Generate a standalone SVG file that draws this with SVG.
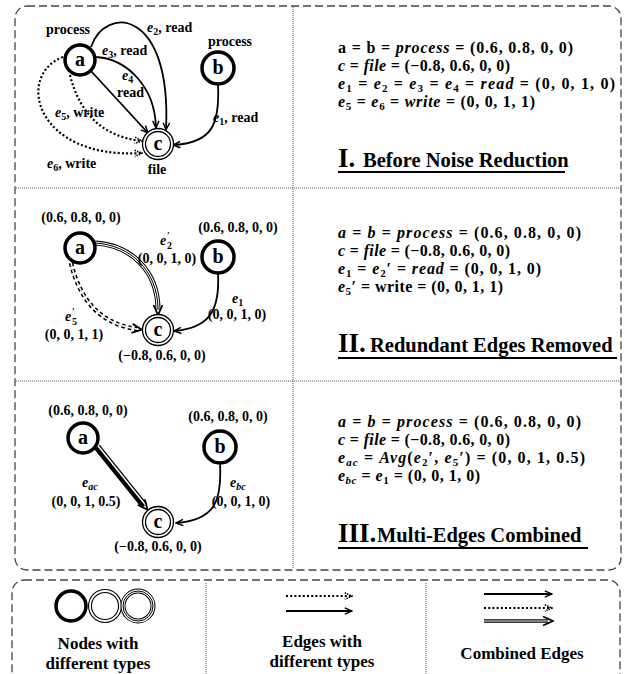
<svg xmlns="http://www.w3.org/2000/svg" width="624" height="674" viewBox="0 0 624 674">
<defs>
<style>
text{font-family:"Liberation Serif","Times New Roman",serif;font-weight:bold;fill:#000}
.it{font-style:italic}
.m{font-size:16px}
.sb{font-size:11px}
.s{font-size:10px}
.lab{font-size:14px}
.tup{font-size:14px;text-anchor:middle}
.nl{font-size:20px;text-anchor:middle}
.ttl{font-size:20.5px}
.big{font-size:27px}
.lg{font-size:17px;text-anchor:middle}
.box{fill:none;stroke:#444;stroke-width:1.3;stroke-dasharray:8 4}
.div{fill:none;stroke:#555;stroke-width:1;stroke-dasharray:1 1}
.proc{fill:#fff;stroke:#000;stroke-width:3.5}
.fo{fill:#fff;stroke:#000;stroke-width:1.3}
.fi{fill:none;stroke:#000;stroke-width:1.3}
.e{fill:none;stroke:#000;stroke-width:1.8}
.d{fill:none;stroke:#000;stroke-width:2.2;stroke-dasharray:2 2.2}
.ul{stroke:#000;stroke-width:1.8}
</style>
<marker id="ah" viewBox="0 0 10 10" refX="9" refY="5" markerWidth="9" markerHeight="9" markerUnits="userSpaceOnUse" orient="auto"><path d="M1,1.5 L9,5 L1,8.5" fill="none" stroke="#000" stroke-width="1.6"/></marker>
<marker id="ahd" viewBox="0 0 10 10" refX="9" refY="5" markerWidth="9" markerHeight="9" markerUnits="userSpaceOnUse" orient="auto"><path d="M1,1.5 L9,5 L1,8.5" fill="none" stroke="#000" stroke-width="1.8" stroke-dasharray="1.6 1.2"/></marker>
<marker id="ahT" viewBox="0 0 12 12" refX="6" refY="6" markerWidth="12" markerHeight="12" markerUnits="userSpaceOnUse" orient="auto"><path d="M1,1.5 L11,6 L1,10.5" fill="none" stroke="#000" stroke-width="1.8"/></marker>
</defs>

<g id="frames">
<rect class="box" x="15" y="6" width="606" height="564" rx="12"/>
<line class="div" x1="293" y1="7" x2="293" y2="569"/>
<line class="div" x1="16" y1="188" x2="620" y2="188"/>
<line class="div" x1="16" y1="381" x2="620" y2="381"/>
<rect class="box" x="12" y="580" width="608" height="130" rx="12"/>
<line class="div" x1="206" y1="583" x2="206" y2="674"/>
<line class="div" x1="426" y1="583" x2="426" y2="674"/>
</g>

<g id="connectors">
<!-- Panel I -->
<path class="e" d="M91,47 C105,5 172,8 166,130" marker-end="url(#ah)"/>
<path class="e" d="M95,57 C125,58 155,85 156,128" marker-end="url(#ah)"/>
<path class="e" d="M91,71 L148,133" marker-end="url(#ah)"/>
<path class="d" d="M70,75 Q85,135 142,141" marker-end="url(#ahd)"/>
<path class="d" d="M63,57 C15,75 35,160 142,153" marker-end="url(#ahd)"/>
<path class="e" d="M218,84 C220,125 212,143 173,145" marker-end="url(#ah)"/>
<text class="lab" x="147" y="32"><tspan class="it">e</tspan><tspan class="s" dy="3">2</tspan><tspan dy="-3">, read</tspan></text>
<text class="lab" x="102" y="55"><tspan class="it">e</tspan><tspan class="s" dy="3">3</tspan><tspan dy="-3">, read</tspan></text>
<text class="lab" x="122" y="80"><tspan class="it">e</tspan><tspan class="s" dy="3">4</tspan></text>
<text class="lab" x="117" y="97">read</text>
<text class="lab" x="55" y="117"><tspan class="it">e</tspan><tspan class="s" dy="3">5</tspan><tspan dy="-3">, write</tspan></text>
<text class="lab" x="47" y="168"><tspan class="it">e</tspan><tspan class="s" dy="3">6</tspan><tspan dy="-3">, write</tspan></text>
<text class="lab" x="213" y="122"><tspan class="it">e</tspan><tspan class="s" dy="3">1</tspan><tspan dy="-3">, read</tspan></text>

<!-- Panel II -->
<path d="M95,243 C130,245 158,270 158,310" fill="none" stroke="#000" stroke-width="5"/>
<path d="M95,243 C130,245 158,270 158,310" fill="none" stroke="#fff" stroke-width="3"/>
<path d="M95,243 C130,245 158,270 158,310" fill="none" stroke="#000" stroke-width="1" marker-end="url(#ahT)"/>
<path d="M71,263 Q85,322 137,329" fill="none" stroke="#000" stroke-width="4.5" stroke-dasharray="3.5 3"/>
<path d="M71,263 Q85,322 137,329" fill="none" stroke="#fff" stroke-width="1.5" stroke-dasharray="3.5 3" marker-end="url(#ahT)"/>
<path class="e" d="M218,273 C220,310 210,328 174,331" marker-end="url(#ah)"/>
<text class="lab" x="160" y="245"><tspan class="it">e</tspan></text>
<text class="s" x="167" y="239">′</text>
<text class="s" x="167" y="249">2</text>
<text class="tup" x="167" y="263">(0, 0, 1, 0)</text>
<text class="lab" x="232" y="303"><tspan class="it">e</tspan><tspan class="s" dy="3">1</tspan></text>
<text class="tup" x="237" y="319">(0, 0, 1, 0)</text>
<text class="lab" x="65" y="321"><tspan class="it">e</tspan></text>
<text class="s" x="72" y="315">′</text>
<text class="s" x="72" y="325">5</text>
<text class="tup" x="74" y="339">(0, 0, 1, 1)</text>

<!-- Panel III -->
<line x1="97" y1="447" x2="144.4" y2="505.9" stroke="#000" stroke-width="7"/>
<line x1="98.15" y1="446.03" x2="145.55" y2="504.93" stroke="#fff" stroke-width="1.5"/>
<line x1="97" y1="447" x2="144.4" y2="505.9" stroke="none" stroke-width="1" marker-end="url(#ahT)"/>
<path class="e" d="M220,463 C222,500 216,520 176,523" marker-end="url(#ah)"/>
<text class="lab" x="82" y="487"><tspan class="it">e</tspan><tspan class="s it" dy="3">ac</tspan></text>
<text class="tup" x="86" y="506">(0, 0, 1, 0.5)</text>
<text class="lab" x="230" y="487"><tspan class="it">e</tspan><tspan class="s it" dy="3">bc</tspan></text>
<text class="tup" x="241" y="506">(0, 0, 1, 0)</text>

<!-- Legend edges -->
<path class="d" d="M286,596 H352" marker-end="url(#ahd)"/>
<path class="e" d="M286,611 H352" marker-end="url(#ah)"/>
<path class="e" d="M484,594 H552" marker-end="url(#ah)"/>
<path class="d" d="M484,608 H552" marker-end="url(#ahd)"/>
<path d="M484,621 H548" stroke="#000" stroke-width="3.5"/>
<path d="M484,621 H548" stroke="#fff" stroke-width="1.2" marker-end="url(#ahT)"/>
</g>

<g id="node-I-a">
<circle class="proc" cx="80" cy="60" r="15"/>
<text class="nl" x="80" y="66">a</text>
<text class="lab" x="68" y="34" text-anchor="middle">process</text>
</g>
<g id="node-I-b">
<circle class="proc" cx="218" cy="68" r="16"/>
<text class="nl" x="218" y="74">b</text>
<text class="lab" x="230" y="46" text-anchor="middle">process</text>
</g>
<g id="node-I-c">
<circle class="fo" cx="158" cy="144" r="15.5"/>
<circle class="fi" cx="158" cy="144" r="12.5"/>
<text class="nl" x="158" y="150">c</text>
<text class="lab" x="157" y="174" text-anchor="middle">file</text>
</g>

<g id="node-II-a">
<circle class="proc" cx="80" cy="248" r="15"/>
<text class="nl" x="80" y="254">a</text>
<text class="tup" x="81" y="222">(0.6, 0.8, 0, 0)</text>
</g>
<g id="node-II-b">
<circle class="proc" cx="218" cy="257" r="16"/>
<text class="nl" x="218" y="263">b</text>
<text class="tup" x="238" y="232">(0.6, 0.8, 0, 0)</text>
</g>
<g id="node-II-c">
<circle class="fo" cx="158" cy="330" r="15.5"/>
<circle class="fi" cx="158" cy="330" r="12.5"/>
<text class="nl" x="158" y="336">c</text>
<text class="tup" x="162" y="360">(−0.8, 0.6, 0, 0)</text>
</g>

<g id="node-III-a">
<circle class="proc" cx="83" cy="438" r="15"/>
<text class="nl" x="83" y="444">a</text>
<text class="tup" x="88" y="415">(0.6, 0.8, 0, 0)</text>
</g>
<g id="node-III-b">
<circle class="proc" cx="220" cy="447" r="16"/>
<text class="nl" x="220" y="453">b</text>
<text class="tup" x="228" y="421">(0.6, 0.8, 0, 0)</text>
</g>
<g id="node-III-c">
<circle class="fo" cx="158" cy="522" r="15.5"/>
<circle class="fi" cx="158" cy="522" r="12.5"/>
<text class="nl" x="158" y="528">c</text>
<text class="tup" x="158" y="551">(−0.8, 0.6, 0, 0)</text>
</g>

<g id="text-I">
<text class="m" x="338" y="53" textLength="235" lengthAdjust="spacing">a = b = <tspan class="it">process</tspan> = (0.6, 0.8, 0, 0)</text>
<text class="m" x="338" y="71" textLength="172" lengthAdjust="spacing"><tspan class="it">c</tspan> = <tspan class="it">file</tspan> = (−0.8, 0.6, 0, 0)</text>
<text class="m" x="338" y="89" textLength="277" lengthAdjust="spacing"><tspan class="it">e</tspan><tspan class="sb" dy="3">1</tspan><tspan dy="-3"> = </tspan><tspan class="it">e</tspan><tspan class="sb" dy="3">2</tspan><tspan dy="-3"> = </tspan><tspan class="it">e</tspan><tspan class="sb" dy="3">3</tspan><tspan dy="-3"> = </tspan><tspan class="it">e</tspan><tspan class="sb" dy="3">4</tspan><tspan dy="-3"> = </tspan><tspan class="it">read</tspan> = (0, 0, 1, 0)</text>
<text class="m" x="338" y="107" textLength="197" lengthAdjust="spacing"><tspan class="it">e</tspan><tspan class="sb" dy="3">5</tspan><tspan dy="-3"> = </tspan><tspan class="it">e</tspan><tspan class="sb" dy="3">6</tspan><tspan dy="-3"> = </tspan><tspan class="it">write</tspan> = (0, 0, 1, 1)</text>
<text class="big" x="338" y="167">I.</text>
<text class="ttl" x="363" y="167">Before Noise Reduction</text>
<line class="ul" x1="338" y1="172" x2="565" y2="172"/>
</g>

<g id="text-II">
<text class="m" x="338" y="238" textLength="243" lengthAdjust="spacing"><tspan class="it">a</tspan> = <tspan class="it">b</tspan> = <tspan class="it">process</tspan> = (0.6, 0.8, 0, 0)</text>
<text class="m" x="338" y="256" textLength="172" lengthAdjust="spacing"><tspan class="it">c</tspan> = <tspan class="it">file</tspan> = (−0.8, 0.6, 0, 0)</text>
<text class="m" x="338" y="274" textLength="203" lengthAdjust="spacing"><tspan class="it">e</tspan><tspan class="sb" dy="3">1</tspan><tspan dy="-3"> = </tspan><tspan class="it">e</tspan><tspan class="sb" dy="3">2</tspan><tspan dy="-3">′ = </tspan><tspan class="it">read</tspan> = (0, 0, 1, 0)</text>
<text class="m" x="338" y="292" textLength="165" lengthAdjust="spacing"><tspan class="it">e</tspan><tspan class="sb" dy="3">5</tspan><tspan dy="-3">′ = write = (0, 0, 1, 1)</tspan></text>
<text class="big" x="338" y="352">II.</text>
<text class="ttl" x="370" y="352">Redundant Edges Removed</text>
<line class="ul" x1="338" y1="358" x2="617" y2="358"/>
</g>

<g id="text-III">
<text class="m" x="338" y="427" textLength="243" lengthAdjust="spacing"><tspan class="it">a</tspan> = <tspan class="it">b</tspan> = <tspan class="it">process</tspan> = (0.6, 0.8, 0, 0)</text>
<text class="m" x="338" y="445" textLength="172" lengthAdjust="spacing"><tspan class="it">c</tspan> = <tspan class="it">file</tspan> = (−0.8, 0.6, 0, 0)</text>
<text class="m" x="338" y="463" textLength="247" lengthAdjust="spacing"><tspan class="it">e</tspan><tspan class="sb it" dy="3">ac</tspan><tspan dy="-3"> = </tspan><tspan class="it">Avg</tspan>(<tspan class="it">e</tspan><tspan class="sb" dy="3">2</tspan><tspan dy="-3">′, </tspan><tspan class="it">e</tspan><tspan class="sb" dy="3">5</tspan><tspan dy="-3">′) = (0, 0, 1, 0.5)</tspan></text>
<text class="m" x="338" y="481" textLength="142" lengthAdjust="spacing"><tspan class="it">e</tspan><tspan class="sb it" dy="3">bc</tspan><tspan dy="-3"> = </tspan><tspan class="it">e</tspan><tspan class="sb" dy="3">1</tspan><tspan dy="-3"> = (0, 0, 1, 0)</tspan></text>
<text class="big" x="338" y="542">III.</text>
<text class="ttl" x="377" y="542">Multi-Edges Combined</text>
<line class="ul" x1="338" y1="548" x2="588" y2="548"/>
</g>

<g id="legend">
<circle cx="71" cy="606" r="15" fill="none" stroke="#000" stroke-width="3.5"/>
<circle cx="105" cy="606" r="15" fill="none" stroke="#000" stroke-width="4"/>
<circle cx="105" cy="606" r="15" fill="none" stroke="#fff" stroke-width="1.8"/>
<circle cx="138" cy="606" r="15" fill="none" stroke="#000" stroke-width="5"/>
<circle cx="138" cy="606" r="15" fill="none" stroke="#fff" stroke-width="3"/>
<circle cx="138" cy="606" r="15" fill="none" stroke="#000" stroke-width="1"/>
<text class="lg" x="98" y="649">Nodes with</text>
<text class="lg" x="98" y="669">different types</text>
<text class="lg" x="322" y="647">Edges with</text>
<text class="lg" x="322" y="667">different types</text>
<text class="lg" x="522" y="659">Combined Edges</text>
</g>
</svg>
